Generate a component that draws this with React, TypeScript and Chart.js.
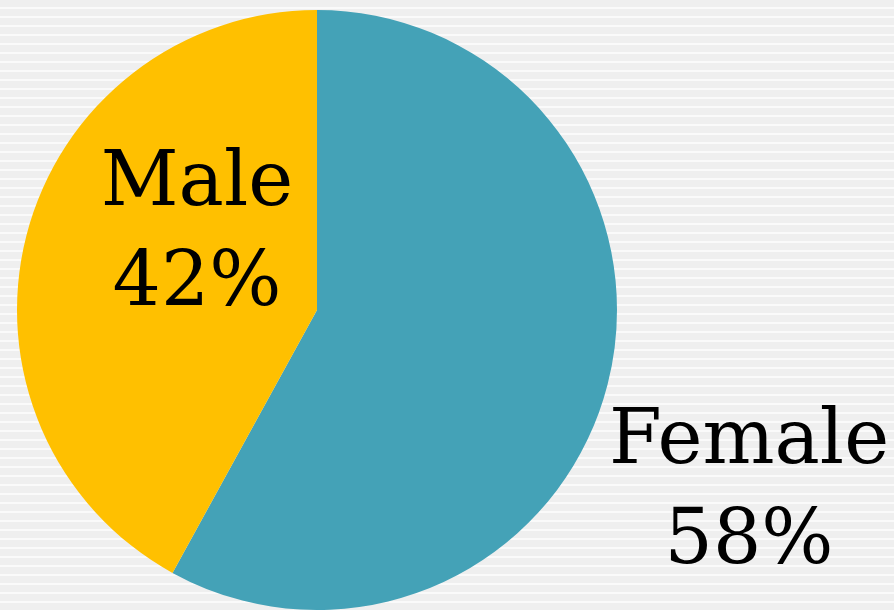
import React, { useEffect, useRef } from "react";
import { Chart, registerables } from "chart.js";

Chart.register(...registerables);

const categories = ["Female", "Male"];
const shares = [58, 42];
const colors = ["#44A2B7", "#FFC000"];

const labelPlugin = {
  id: "bigLabels",
  afterDraw(chart: any) {
    const { ctx } = chart;
    const meta = chart.getDatasetMeta(0);
    const arc0 = meta.data[0];
    if (!arc0) return;
    const cx = arc0.x;
    const cy = arc0.y;
    const r = arc0.outerRadius;
    // label anchor offsets relative to pie centre (in units of radius)
    const anchors: Record<string, [number, number]> = {
      Female: [1.44, 0.517],
      Male: [-0.4, -0.343],
    };
    ctx.save();
    ctx.fillStyle = "#000";
    ctx.font = "76px 'DejaVu Serif'";
    ctx.textAlign = "center";
    ctx.textBaseline = "alphabetic";
    categories.forEach((c, i) => {
      const [ax, ay] = anchors[c];
      const x = cx + ax * r;
      const y = cy + ay * r;
      ctx.fillText(c, x, y - 2);
      ctx.fillText(shares[i] + "%", x, y + 98);
    });
    ctx.restore();
  },
};

export default function App() {
  const ref = useRef<HTMLCanvasElement>(null);
  useEffect(() => {
    if (!ref.current) return;
    const chart = new Chart(ref.current, {
      type: "pie",
      data: {
        labels: categories,
        datasets: [
          {
            data: shares,
            backgroundColor: colors,
            borderWidth: 0,
          },
        ],
      },
      options: {
        animation: false,
        responsive: false,
        maintainAspectRatio: false,
        layout: { padding: { left: 15, right: 275, top: 10, bottom: 0 } },
        plugins: {
          legend: { display: false },
          tooltip: { enabled: false },
        },
      },
      plugins: [labelPlugin],
    });
    return () => chart.destroy();
  }, []);
  return (
    <div
      style={{
        position: "fixed",
        left: 0,
        top: 0,
        width: 894,
        height: 610,
        background:
          "repeating-linear-gradient(to bottom, #efefef 0px, #efefef 7px, #fafafa 7px, #fafafa 9px)",
      }}
    >
      <canvas ref={ref} width={894} height={610} style={{ display: "block" }} />
    </div>
  );
}
